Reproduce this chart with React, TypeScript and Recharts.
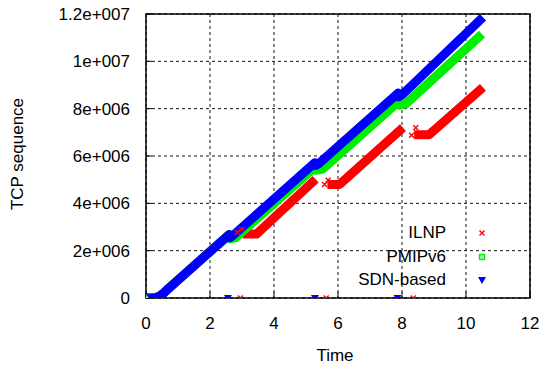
import {
  ComposedChart, Line, Scatter, XAxis, YAxis, CartesianGrid, ReferenceArea,
} from "recharts";

type Pt = { x: number; y: number };
const pts = (a: number[][]): Pt[] => a.map(([x, y]) => ({ x, y: y * 1e6 }));

// axes
const xTicks = [0, 2, 4, 6, 8, 10, 12];
const yTicks = [0, 2e6, 4e6, 6e6, 8e6, 10e6, 12e6];
const yTickLabels = ["0", "2e+006", "4e+006", "6e+006", "8e+006", "1e+007", "1.2e+007"];

// ILNP (red) – segments between handovers, y in millions
const ilnpSegs = [
  [[0, 0], [0.25, 0], [0.4, 0.06], [0.55, 0.2], [0.7, 0.4], [2.6, 2.68]],
  [[3.02, 2.7], [3.45, 2.7], [5.3, 5.02]],
  [[5.67, 4.8], [6.05, 4.8], [8.03, 7.2]],
  [[8.38, 6.9], [8.85, 6.9], [10.53, 8.9]],
];
const ilnpStray = [[2.85, 2.78], [2.99, 2.9], [5.69, 4.98], [5.58, 4.8], [8.43, 7.19], [8.3, 6.88], [2.95, 0], [5.63, 0], [8.35, 0]];

// PMIPv6 (green)
const pmipSegs = [
  [[0, 0], [0.25, 0], [0.4, 0.06], [0.55, 0.2], [0.7, 0.4], [2.6, 2.68], [2.62, 2.5], [2.8, 2.55],
   [5.3, 5.55], [5.32, 5.4], [5.52, 5.45], [7.9, 8.31], [7.92, 8.15], [8.12, 8.2], [10.5, 11.15]],
];
const pmipStray = [[0.05, 0]];

// SDN-based (blue)
const sdnSegs = [
  [[0, 0], [0.25, 0], [0.4, 0.06], [0.55, 0.2], [0.7, 0.4], [2.6, 2.68], [2.62, 2.55], [2.7, 2.62],
   [5.28, 5.72], [5.3, 5.6], [5.38, 5.66], [7.88, 8.66], [7.9, 8.5], [7.98, 8.56], [10.53, 11.86]],
];
const sdnStray = [[0.15, 0], [0.3, 0], [2.56, 0], [5.28, 0], [7.86, 0]];

const RED = "#ff0000";
const GREEN = "#00ee00";
const BLUE = "#0000ff";
const FONT = "'Liberation Sans', Arial, sans-serif";

const Cross = ({ cx, cy }: any) => (
  <path d={`M${cx - 2.5},${cy - 2.5}L${cx + 2.5},${cy + 2.5}M${cx - 2.5},${cy + 2.5}L${cx + 2.5},${cy - 2.5}`}
    stroke={RED} strokeWidth={1.4} fill="none" />
);
const Square = ({ cx, cy }: any) => (
  <rect x={cx - 2.5} y={cy - 2.5} width={5} height={5} stroke={GREEN} strokeWidth={1.4} fill="#aaffaa" />
);
const Tri = ({ cx, cy }: any) => (
  <polygon points={`${cx - 4},${cy - 3} ${cx + 4},${cy - 3} ${cx},${cy + 4}`} fill={BLUE} />
);

function YLabel({ viewBox }: any) {
  const cx = 17, cy = viewBox.y + viewBox.height / 2 - 2;
  return (
    <text x={cx} y={cy} transform={`rotate(-90 ${cx} ${cy})`} textAnchor="middle"
      dominantBaseline="central" fontSize={17} fontFamily={FONT} fill="#000">TCP sequence</text>
  );
}
function XLabel({ viewBox }: any) {
  const cx = viewBox.x + viewBox.width / 2 - 3;
  return (
    <text x={cx} y={355} textAnchor="middle" dominantBaseline="central"
      fontSize={17} fontFamily={FONT} fill="#000">Time</text>
  );
}

const legend = [
  { name: "ILNP", Mark: Cross, top: 233 },
  { name: "PMIPv6", Mark: Square, top: 257 },
  { name: "SDN-based", Mark: Tri, top: 280 },
];

export default function App() {
  const tick = { fontSize: 17, fill: "#000", fontFamily: FONT };
  const band = { strokeWidth: 9, strokeLinejoin: "round" as const, dot: false, activeDot: false, isAnimationActive: false };
  return (
    <div style={{ position: "absolute", left: 0, top: 0, width: 539, height: 367, fontFamily: FONT, background: "#fff" }}>
      <ComposedChart width={539} height={367} margin={{ top: 14, right: 9, bottom: 19, left: 0 }}>
        <CartesianGrid strokeDasharray="3 3" stroke="#111" />
        <XAxis type="number" dataKey="x" domain={[0, 12]} ticks={xTicks} allowDataOverflow
          tick={tick} tickLine={{ stroke: "#000" }} axisLine={false} tickSize={-6} tickMargin={25} height={50}
          label={<XLabel />} />
        <YAxis type="number" dataKey="y" domain={[0, 12e6]} ticks={yTicks} allowDataOverflow
          tickFormatter={(v: number) => yTickLabels[yTicks.indexOf(v)]}
          tick={tick} tickLine={{ stroke: "#000" }} axisLine={false} tickSize={-6} tickMargin={22} width={146}
          label={<YLabel />} />
        <ReferenceArea x1={0} x2={12} y1={0} y2={12e6} fill="none" fillOpacity={0}
          stroke="#000" strokeWidth={1.5} />
        {ilnpSegs.map((s, i) => (
          <Line key={"r" + i} data={pts(s)} dataKey="y" stroke={RED} {...band} />
        ))}
        <Scatter data={pts(ilnpStray)} shape={<Cross />} isAnimationActive={false} />
        {pmipSegs.map((s, i) => (
          <Line key={"g" + i} data={pts(s)} dataKey="y" stroke={GREEN} {...band} />
        ))}
        <Scatter data={pts(pmipStray)} shape={<Square />} isAnimationActive={false} />
        {sdnSegs.map((s, i) => (
          <Line key={"b" + i} data={pts(s)} dataKey="y" stroke={BLUE} {...band} />
        ))}
        <Scatter data={pts(sdnStray)} shape={<Tri />} isAnimationActive={false} />
      </ComposedChart>
      {legend.map(({ name, Mark, top }) => (
        <div key={name}>
          <div style={{ position: "absolute", left: 0, width: 446, top: top - 10, height: 20,
            lineHeight: "20px", textAlign: "right", fontSize: 17, color: "#000" }}>{name}</div>
          <svg style={{ position: "absolute", left: 472, top: top - 10 }} width={20} height={20}>
            <Mark cx={10} cy={10} />
          </svg>
        </div>
      ))}
    </div>
  );
}
